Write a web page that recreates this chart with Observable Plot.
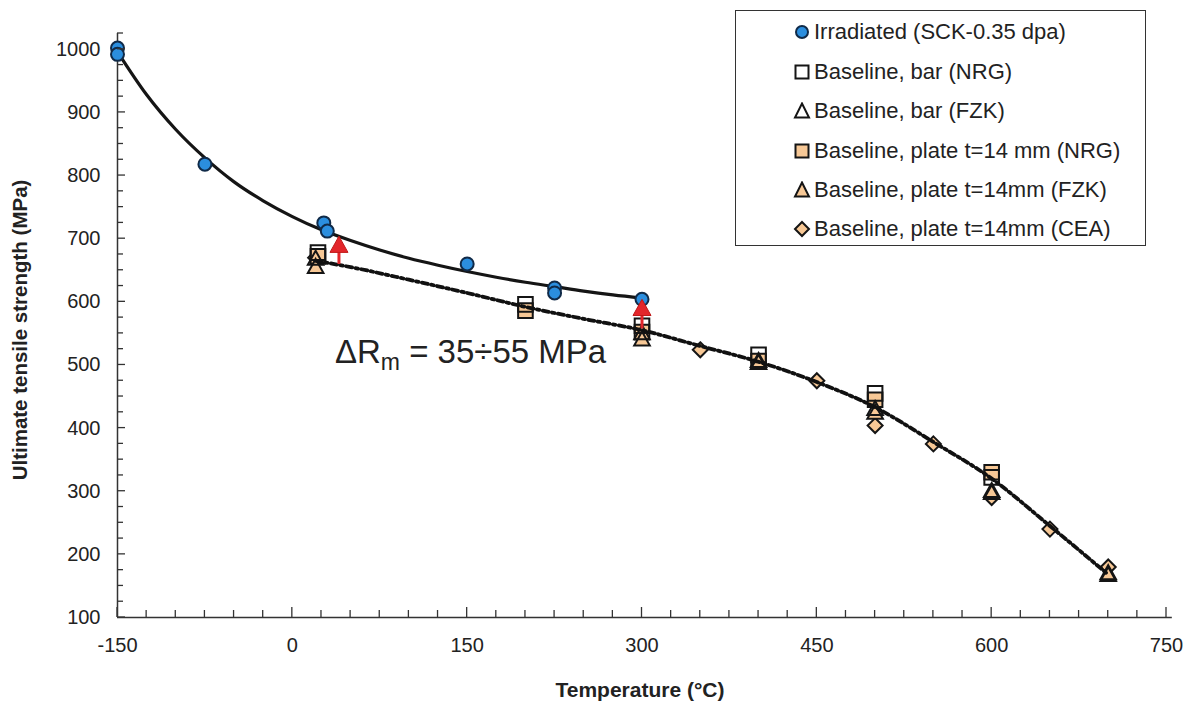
<!DOCTYPE html>
<html><head><meta charset="utf-8">
<script src="https://cdn.jsdelivr.net/npm/d3@7"></script>
<script src="https://cdn.jsdelivr.net/npm/@observablehq/plot@0.6"></script>
<style>
body{margin:0;background:#fff;}
#wrap{position:relative;width:1200px;height:704px;font-family:"Liberation Sans",Arial,sans-serif;}
#legend{position:absolute;left:735px;top:10px;width:411px;height:236px;border:1.5px solid #333;box-sizing:border-box;background:#fff;}
.row{position:absolute;left:57px;height:26px;display:flex;align-items:center;font-size:22px;color:#222;white-space:nowrap;}
.row svg{margin-right:3px;}
</style></head>
<body><div id="wrap"></div>
<script>
// ---- data ----
const irrTemp = [-150, -150, -75, 27, 30, 150, 225, 225, 300];
const irrUTS  = [1002, 992, 818, 725, 712, 660, 622, 614, 604];

const barNrgTemp = [22, 200, 300, 400, 500, 600];
const barNrgUTS  = [678, 596, 562, 516, 455, 322];

const barFzkTemp = [20, 300, 400, 500, 600, 700];
const barFzkUTS  = [668, 550, 506, 430, 300, 170];

const plateNrgTemp = [22, 200, 300, 400, 500, 600];
const plateNrgUTS  = [672, 586, 552, 506, 445, 330];

const plateFzkTemp = [20, 300, 400, 500, 600, 700];
const plateFzkUTS  = [655, 540, 503, 424, 297, 167];

const ceaTemp = [20, 350, 450, 500, 550, 600, 650, 700];
const ceaUTS  = [670, 524, 475, 404, 375, 290, 240, 180];

// fitted trend curves
const fitIrrTemp = [-150, -125, -100, -75, -50, -25, 0, 25, 50, 75, 100, 125, 150, 175, 200, 225, 250, 275, 300];
const fitIrrUTS  = [996, 928, 873, 828, 790, 760, 735, 714, 697, 682, 669, 658, 648, 639, 631, 624, 617, 611, 606];
const fitBaseTemp = [20, 50, 100, 150, 200, 250, 300, 350, 400, 450, 500, 550, 600, 650, 700];
const fitBaseUTS  = [665, 655, 635, 614, 592, 573, 555, 530, 505, 473, 433, 378, 320, 245, 168];

// irradiation increase arrows
const arrowTemp = [40, 300];
const arrowFrom = [660, 558];
const arrowTo   = [689, 589];

// axes
const xTicks = [-150, 0, 150, 300, 450, 600, 750];
const yTicks = [100, 200, 300, 400, 500, 600, 700, 800, 900, 1000];
const xMinorTicks = d3.range(-150, 751, 25);
const yMinorTicks = d3.range(100, 1026, 25);

const legendLabels = [
  "Irradiated (SCK-0.35 dpa)",
  "Baseline, bar (NRG)",
  "Baseline, bar (FZK)",
  "Baseline, plate t=14 mm (NRG)",
  "Baseline, plate t=14mm (FZK)",
  "Baseline, plate t=14mm (CEA)"
];

const zip = (xs, ys) => xs.map((x, i) => ({x, y: ys[i]}));

const BLUE = "#2b8ede", NAVY = "#102a48", PEACH = "#f7c896", INK = "#151515", RED = "#e3262b";

const diamond = {draw(ctx, size) { const r = Math.sqrt(size / Math.PI); ctx.moveTo(0, -r); ctx.lineTo(r, 0); ctx.lineTo(0, r); ctx.lineTo(-r, 0); ctx.closePath(); }};
const square = {draw(ctx, size) { const r = Math.sqrt(size / Math.PI); ctx.rect(-r, -r, 2 * r, 2 * r); }};
const tri = {draw(ctx, size) { const r = Math.sqrt(size / Math.PI); ctx.moveTo(0, -r * 1.05); ctx.lineTo(r, r * 0.75); ctx.lineTo(-r, r * 0.75); ctx.closePath(); }};

const FONT = "'Liberation Sans',Arial,sans-serif";

const plot = Plot.plot({
  width: 1200, height: 704,
  marginLeft: 117, marginRight: 34, marginTop: 33, marginBottom: 87,
  x: {domain: [-150, 750]},
  y: {domain: [100, 1025]},
  style: {fontFamily: FONT, fontSize: "20px", color: "#222", background: "#fff"},
  marks: [
    Plot.axisX({ticks: xTicks, tickSize: 0, tickPadding: 20, label: null, fontSize: 20, tickFormat: d => String(d)}),
    Plot.axisY({ticks: yTicks, tickSize: 0, tickPadding: 17, label: null, fontSize: 20, tickFormat: d => String(d)}),
    Plot.ruleY([100], {x1: -150, x2: 755, stroke: "#333", strokeWidth: 1.5}),
    Plot.ruleX([-150], {y1: 100, y2: 1025, stroke: "#333", strokeWidth: 1.5}),
    // baseline markers
    Plot.dot(zip(ceaTemp, ceaUTS), {x: "x", y: "y", symbol: diamond, r: 7.5, fill: PEACH, stroke: INK, strokeWidth: 2}),
    Plot.dot(zip(plateNrgTemp, plateNrgUTS), {x: "x", y: "y", symbol: square, r: 7.3, fill: PEACH, stroke: INK, strokeWidth: 2}),
    Plot.dot(zip(plateFzkTemp, plateFzkUTS), {x: "x", y: "y", symbol: tri, r: 7.8, fill: PEACH, stroke: INK, strokeWidth: 2}),
    Plot.dot(zip(barNrgTemp, barNrgUTS), {x: "x", y: "y", symbol: square, r: 7.3, fill: "none", stroke: INK, strokeWidth: 2}),
    Plot.dot(zip(barFzkTemp, barFzkUTS), {x: "x", y: "y", symbol: tri, r: 7.8, fill: "none", stroke: INK, strokeWidth: 2}),
    // trend lines
    Plot.line(zip(fitBaseTemp, fitBaseUTS), {x: "x", y: "y", curve: "monotone-x", stroke: "#111", strokeWidth: 3.8, strokeDasharray: "6,3.5,2.5,3.5"}),
    Plot.line(zip(fitIrrTemp, fitIrrUTS), {x: "x", y: "y", curve: "monotone-x", stroke: INK, strokeWidth: 3.2}),
    // irradiated
    Plot.dot(zip(irrTemp, irrUTS), {x: "x", y: "y", r: 6.5, fill: BLUE, stroke: NAVY, strokeWidth: 2}),
    // red arrows
    Plot.link(arrowTemp.map((t, i) => ({x: t, y1: arrowFrom[i], y2: arrowTo[i] - 8})), {x1: "x", x2: "x", y1: "y1", y2: "y2", stroke: RED, strokeWidth: 3}),
    Plot.dot(zip(arrowTemp, arrowTo), {x: "x", y: "y", symbol: tri, r: 9, fill: RED, stroke: "#c01818", strokeWidth: 1})
  ]
});

const svg = d3.select(plot);
const sx = plot.scale("x"), sy = plot.scale("y");
const g = svg.append("g").attr("stroke", "#333").attr("stroke-width", 1.3);
const y0 = sy.apply(100), x0 = sx.apply(-150);
xMinorTicks.forEach(t => {
  const len = xTicks.includes(t) ? 10 : 7;
  g.append("line").attr("x1", sx.apply(t)).attr("x2", sx.apply(t)).attr("y1", y0).attr("y2", y0 - len);
});
yMinorTicks.forEach(t => {
  const len = yTicks.includes(t) ? 8 : 6;
  g.append("line").attr("y1", sy.apply(t)).attr("y2", sy.apply(t)).attr("x1", x0).attr("x2", x0 + len);
});

// axis titles
svg.append("text").attr("x", 640).attr("y", 697).attr("text-anchor", "middle")
  .attr("font-family", FONT).attr("font-weight", "bold").attr("font-size", 21).attr("fill", "#222")
  .text("Temperature (°C)");
svg.append("text").attr("transform", `translate(27,${(sy.apply(1025) + y0) / 2 + 5}) rotate(-90)`).attr("text-anchor", "middle")
  .attr("font-family", FONT).attr("font-weight", "bold").attr("font-size", 20.5).attr("fill", "#222")
  .text("Ultimate tensile strength (MPa)");

// annotation
const ann = svg.append("text").attr("x", sx.apply(37)).attr("y", sy.apply(503)).attr("text-anchor", "start")
  .attr("font-family", FONT).attr("font-size", 33).attr("fill", "#222");
ann.append("tspan").text("ΔR");
ann.append("tspan").attr("font-size", 23).attr("dy", 7).text("m");
ann.append("tspan").attr("dy", -7).text(" = 35÷55 MPa");

const wrap = document.getElementById("wrap");
wrap.appendChild(plot);

// legend
const legend = document.createElement("div");
legend.id = "legend";
wrap.appendChild(legend);
const symSvg = [
  `<circle cx="9" cy="9" r="6" fill="${BLUE}" stroke="${NAVY}" stroke-width="2"/>`,
  `<rect x="2.5" y="2.5" width="13" height="13" fill="none" stroke="${INK}" stroke-width="2"/>`,
  `<path d="M9,1.5L16,15.5L2,15.5Z" fill="none" stroke="${INK}" stroke-width="2"/>`,
  `<rect x="2.5" y="2.5" width="13" height="13" fill="${PEACH}" stroke="${INK}" stroke-width="2"/>`,
  `<path d="M9,1.5L16,15.5L2,15.5Z" fill="${PEACH}" stroke="${INK}" stroke-width="2"/>`,
  `<path d="M9,2L16,9L9,16L2,9Z" fill="${PEACH}" stroke="${INK}" stroke-width="2"/>`
];
const rowTops = [8, 48, 87, 127, 166, 205];
legendLabels.forEach((lab, i) => {
  const row = document.createElement("div");
  row.className = "row";
  row.style.top = rowTops[i] + "px";
  row.innerHTML = `<svg width="18" height="18">${symSvg[i]}</svg><span>${lab}</span>`;
  legend.appendChild(row);
});
</script>
</body></html>
